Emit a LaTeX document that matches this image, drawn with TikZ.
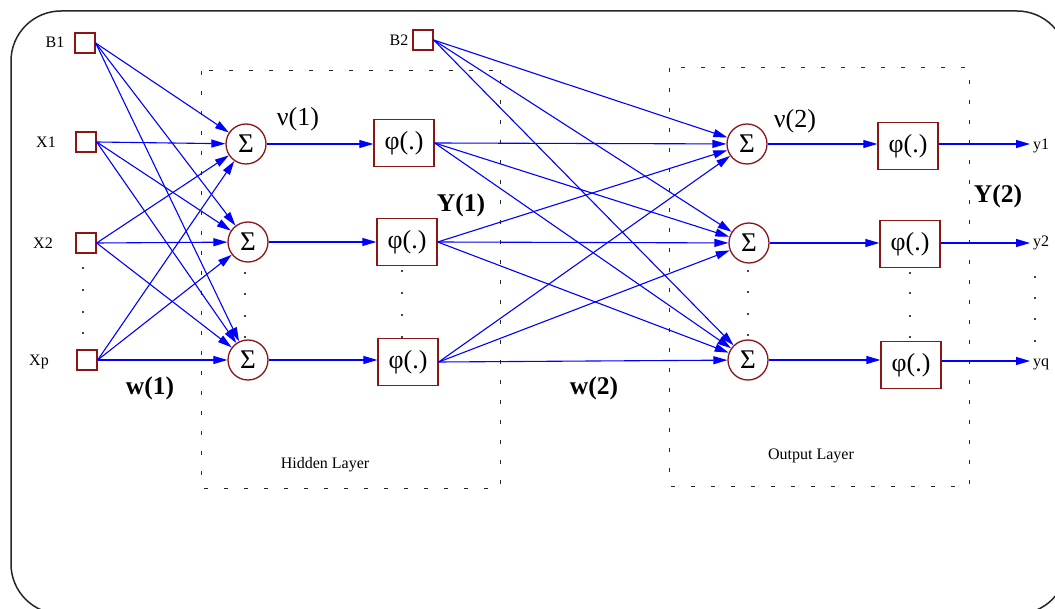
\documentclass[tikz,border=0pt]{standalone}
\usepackage{fontspec}
\setmainfont{Liberation Serif}
\usetikzlibrary{arrows.meta}
\definecolor{boxred}{RGB}{140,22,22}
\definecolor{wireblue}{RGB}{0,0,255}

\begin{document}
\begin{tikzpicture}[x=1pt,y=-1pt,
  inbox/.style={draw=boxred,line width=1.3pt,minimum width=20pt,minimum height=20pt,inner sep=0pt},
  sumnode/.style={draw=boxred,line width=1.3pt,circle,minimum size=40pt,inner sep=0pt,font=\fontsize{27}{28}\selectfont},
  actbox/.style={draw=boxred,line width=1.3pt,minimum width=60pt,minimum height=47pt,inner sep=0pt,font=\fontsize{26}{28}\selectfont},
  wire/.style={wireblue,line width=1.1pt,-{Triangle[length=14pt,width=8pt]}},
  lbl/.style={font=\fontsize{16}{18}\selectfont,inner sep=0pt},
  greek/.style={font=\fontsize{26}{28}\selectfont,inner sep=0pt},
  boldlbl/.style={font=\fontsize{25.5}{28}\selectfont\bfseries,inner sep=0pt},
  layer/.style={draw=black!85,line width=1pt,dash pattern=on 4pt off 16pt},
  dotmark/.style={fill=black,circle,inner sep=0pt,minimum size=2.2pt}
]
\useasboundingbox (0,0) rectangle (1055,609);
\clip (0,0) rectangle (1055,609);

% outer frame
\draw[black!85,line width=1.5pt,rounded corners=50pt] (11,11) rectangle (1067,614);

% layer frames
\draw[layer] (201,71) rectangle (500,488);
\draw[layer] (669,68) rectangle (969,486);
\node[lbl] (hl) at (325,465) {Hidden Layer};
\node[lbl] (ol) at (811,456) {Output Layer};

% inputs
\node[inbox] (B1) at (85,43) {};
\node[inbox] (X1) at (86,142) {};
\node[inbox] (X2) at (86,243) {};
\node[inbox] (Xp) at (87,360) {};
\node[lbl] (lB1) at (55,42) {B1};
\node[lbl] (lX1) at (46,142) {X1};
\node[lbl] (lX2) at (43,243) {X2};
\node[lbl] (lXp) at (39,362) {Xp};
\foreach \yy in {268,290,312,333} \node[dotmark] at (83,\yy) {};

% hidden layer
\node[sumnode] (h1) at (246,144) {Σ};
\node[sumnode] (h2) at (248,242) {Σ};
\node[sumnode] (h3) at (248,360) {Σ};
\foreach \yy in {273,294,316,337} \node[dotmark] at (245,\yy) {};
\node[actbox] (p1) at (404,143) {φ(.)};
\node[actbox] (p2) at (407,242) {φ(.)};
\node[actbox] (p3) at (408,362) {φ(.)};
\foreach \yy in {271,293,315,337} \node[dotmark] at (402,\yy) {};

\node[inbox] (B2) at (423,40) {};
\node[lbl] (lB2) at (399,40) {B2};

% output layer
\node[sumnode] (o1) at (747,144) {Σ};
\node[sumnode] (o2) at (749,243) {Σ};
\node[sumnode] (o3) at (748,360) {Σ};
\foreach \yy in {271,292,314,335} \node[dotmark] at (748,\yy) {};
\node[actbox] (q1) at (908,146) {φ(.)};
\node[actbox] (q2) at (910,244) {φ(.)};
\node[actbox] (q3) at (911,365) {φ(.)};
\foreach \yy in {273,293,316,337} \node[dotmark] at (910,\yy) {};

% outputs
\coordinate (e1) at (1030,144);
\coordinate (e2) at (1030,243);
\coordinate (e3) at (1030,361);
\node[lbl,anchor=west] (ly1) at (1033,146) {y1};
\node[lbl,anchor=west] (ly2) at (1033,243) {y2};
\node[lbl,anchor=west] (lyq) at (1033,364) {yq};
\foreach \yy in {277,298,319,341} \node[dotmark] at (1035,\yy) {};

% labels
\node[greek] (nu1) at (298,119) {ν(1)};
\node[greek] (nu2) at (795,121) {ν(2)};
\node[boldlbl] (Y1) at (461,205) {Y(1)};
\node[boldlbl] (Y2) at (998,196) {Y(2)};
\node[boldlbl] (w1) at (150,388) {w(1)};
\node[boldlbl] (w2) at (594,388) {w(2)};

% connections: inputs to hidden sums
\foreach \s in {B1,X1,X2,Xp}
  \foreach \t in {h1,h2,h3}
    \draw[wire] (\s.east) -- (\t);

% hidden sums to activations
\draw[wire] (h1) -- (p1.west |- h1);
\draw[wire] (h2) -- (p2.west |- h2);
\draw[wire] (h3) -- (p3.west |- h3);

% hidden activations and bias to output sums
\foreach \s in {p1,p2,p3,B2}
  \foreach \t in {o1,o2,o3}
    \draw[wire] (\s.east) -- (\t);

% output sums to activations
\draw[wire] (o1) -- (q1.west |- o1);
\draw[wire] (o2) -- (q2.west |- o2);
\draw[wire] (o3) -- (q3.west |- o3);

% network outputs
\draw[wire] (q1.east |- e1) -- (e1);
\draw[wire] (q2.east |- e2) -- (e2);
\draw[wire] (q3.east |- e3) -- (e3);
\end{tikzpicture}
\end{document}
